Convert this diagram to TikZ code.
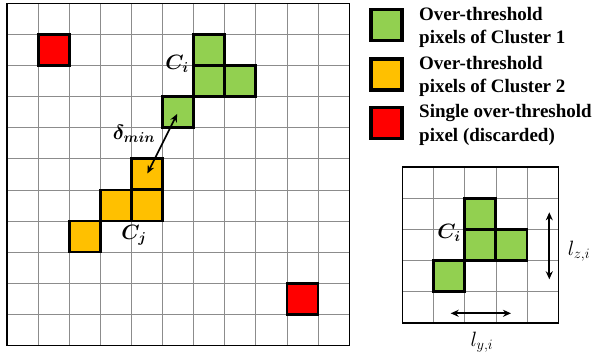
\documentclass[tikz,border=0pt]{standalone}
\usepackage{amsmath,bm}
\usepackage{fontspec}
\setmainfont{Liberation Serif}
\usetikzlibrary{arrows.meta}
\definecolor{cgreen}{HTML}{92D050}
\definecolor{cyellow}{HTML}{FFC000}
\definecolor{cred}{HTML}{FF0000}
\tikzset{
  gridline/.style={draw=black!45, line width=0.8pt},
  border/.style={draw=black, line width=1.2pt},
  pix/.style={rectangle, draw=black, line width=2.8pt, minimum size=31pt, inner sep=0pt},
  legpix/.style={rectangle, draw=black, line width=3.2pt, minimum size=31pt, inner sep=0pt},
  legtext/.style={anchor=base west, inner sep=0pt, font=\fontsize{19}{24}\selectfont\bfseries},
  mlabel/.style={inner sep=0pt, font=\fontsize{21}{24}\selectfont},
  dbl/.style={{Stealth[length=8pt,width=7pt]}-{Stealth[length=8pt,width=7pt]}, line width=1.7pt},
}
\begin{document}
\begin{tikzpicture}[x=1pt,y=-1pt]
\useasboundingbox (0,0) rectangle (595,356);
% main grid
\begin{scope}[shift={(7,3.3)}, x=31.1pt, y=-31.1pt]
  \foreach \i in {1,...,10} {
    \draw[gridline] (\i,0) -- (\i,11);
    \draw[gridline] (0,\i) -- (11,\i);
  }
  \draw[border] (0,0) rectangle (11,11);
  \node[pix, fill=cred] (r1) at (1.5,1.5) {};
  \node[pix, fill=cred] (r2) at (9.5,9.5) {};
  \node[pix, fill=cgreen] (g1) at (6.5,1.5) {};
  \node[pix, fill=cgreen] (g2) at (6.5,2.5) {};
  \node[pix, fill=cgreen] (g3) at (7.5,2.5) {};
  \node[pix, fill=cgreen] (g4) at (5.5,3.5) {};
  \node[pix, fill=cyellow] (y1) at (4.5,5.5) {};
  \node[pix, fill=cyellow] (y2) at (3.5,6.5) {};
  \node[pix, fill=cyellow] (y3) at (4.5,6.5) {};
  \node[pix, fill=cyellow] (y4) at (2.5,7.5) {};
\end{scope}
\draw[dbl, shorten <=2pt, shorten >=1pt] (g4.center) -- (y1.center);
\node[mlabel] (ci) at (177,64) {$\bm{C_i}$};
\node[mlabel] (dmin) at (134,134) {$\bm{\delta_{min}}$};
\node[mlabel] (cj) at (134,235) {$\bm{C_j}$};
% legend
\node[legpix, fill=cgreen] (lg) at (386.5,25) {};
\node[legpix, fill=cyellow] (ly) at (386.5,74.5) {};
\node[legpix, fill=cred] (lr) at (386.5,123) {};
\node[legtext] (t1) at (419,20) {Over-threshold};
\node[legtext] (t2) at (419,43.5) {pixels of Cluster 1};
\node[legtext] (t3) at (419,69) {Over-threshold};
\node[legtext] (t4) at (419,92.7) {pixels of Cluster 2};
\node[legtext] (t5) at (419,117.3) {Single over-threshold};
\node[legtext] (t6) at (419,141.7) {pixel (discarded)};
% small grid
\begin{scope}[shift={(402.3,167)}, x=31.2pt, y=-31.2pt]
  \foreach \i in {1,...,4} {
    \draw[gridline] (\i,0) -- (\i,5);
    \draw[gridline] (0,\i) -- (5,\i);
  }
  \draw[border] (0,0) rectangle (5,5);
  \node[pix, fill=cgreen] (s1) at (2.5,1.5) {};
  \node[pix, fill=cgreen] (s2) at (2.5,2.5) {};
  \node[pix, fill=cgreen] (s3) at (3.5,2.5) {};
  \node[pix, fill=cgreen] (s4) at (1.5,3.5) {};
\end{scope}
\coordinate (hy1) at (450.7,313.3);
\coordinate (hy2) at (511,313.3);
\coordinate (vz1) at (549.3,212.3);
\coordinate (vz2) at (549.3,279.3);
\draw[dbl] (hy1) -- (hy2);
\draw[dbl] (vz1) -- (vz2);
\node[mlabel] (ci2) at (449,233) {$\bm{C_i}$};
\node[mlabel] (lz) at (579,251) {$l_{z,i}$};
\node[mlabel] (ly2) at (482,342) {$l_{y,i}$};
\end{tikzpicture}
\end{document}
